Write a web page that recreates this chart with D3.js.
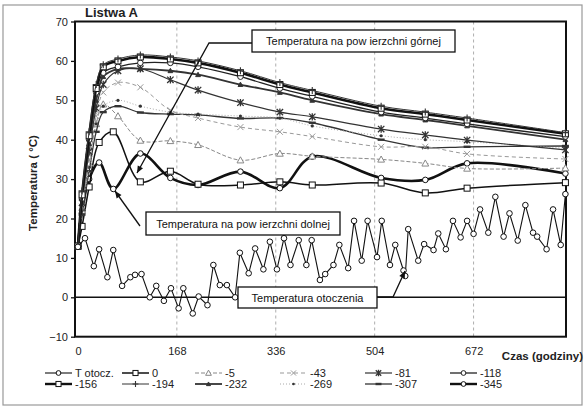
<!DOCTYPE html>
<html>
<head>
<meta charset="utf-8">
<script src="https://cdn.jsdelivr.net/npm/d3@7"></script>
<style>
  body { margin: 0; background: #fff; }
  text { font-family: "Liberation Sans", Arial, sans-serif; }
</style>
</head>
<body>
<div id="chart"></div>
<script>
// Measurement times (hours)
const hoursInner = [0, 7, 19, 31, 43, 68, 106, 157, 204, 276, 343, 398, 515, 590, 661, 828];
const hoursSurf = [0, 7, 19, 36, 60, 106, 157, 204, 276, 343, 398, 515, 590, 661, 828];
const hoursAmb = [0, 12, 27, 36, 50, 60, 75, 89, 97, 108, 122, 133, 146, 158, 171, 179, 195, 205, 220, 230,
  241, 253, 267, 275, 290, 301, 315, 326, 338, 350, 361, 375, 388, 397, 411, 420, 434, 444, 459, 469,
  482, 492, 508, 516, 530, 539, 553, 556, 561, 578, 588, 604, 612, 625, 637, 650, 661, 672, 683, 697,
  709, 723, 733, 747, 760, 773, 780, 796, 807, 820, 828];

// Temperatures (°C)
const tAmb = [12.8, 15, 7.9, 12.2, 5.1, 12, 2.9, 5.1, 5.7, 5.9, 0, 2.9, -0.9, 2.3, -2.8, 2.3, -4.1, 0.2, -2, 8.2,
  3.1, 3.1, 0, 11.3, 6.1, 12.4, 7.1, 14.1, 7.1, 15, 8.2, 14.5, 8.2, 14.5, 4.4, 5.9, 8.2, 13.3, 7.4, 19.4,
  9.3, 19.4, 10.2, 19.4, 8.2, 13.3, 6.8, 5.4, 17.3, 9.3, 13.5, 12, 16.2, 12.2, 19.4, 15.2, 19.4, 16.1, 22.3, 16.4,
  25.5, 15.4, 21.3, 14.4, 23.4, 16.4, 15.4, 12.2, 22.3, 13.3, 26.2];
const t0 = [13, 18, 28, 39.3, 42, 29.3, 32, 28.7, 28.5, 29.3, 28.5, 29, 26.5, 27.7, 29.1];
const t345 = [13, 22, 30, 34.2, 27.5, 36.5, 30.3, 28.5, 31.9, 27.7, 35.7, 30.3, 29.8, 34, 31.4];
const t5 = [13, 22, 34, 44, 49, 46, 39.8, 39.7, 38.7, 34.8, 36.5, 35.8, 35, 34, 32.7, 32.8];
const t43 = [13, 23, 35, 46, 52, 54.5, 53.3, 47.5, 45.5, 43.2, 42, 40.8, 38.2, 38.2, 36.4, 35.1];
const t81 = [13, 24, 37, 48, 54, 57.5, 58, 55.2, 52.6, 49.4, 47, 45.8, 42.7, 41.2, 39.9, 37.4];
const t118 = [13, 25, 40, 52, 57, 58.5, 59.5, 59.5, 58.5, 56, 53, 51, 47, 45.5, 44, 40.8];
const t156 = [13, 26, 41, 53, 58.5, 60, 61, 60.5, 59.5, 57, 54, 52, 48, 46.5, 45, 41.5];
const t194 = [13, 27, 42, 54, 59, 60.5, 61.5, 61, 60, 57.5, 54.5, 52.5, 48.5, 47, 45.5, 41.8];
const t232 = [13, 25, 39, 50, 56, 58, 58, 57.5, 56.5, 54, 52, 50, 46.5, 45, 43.5, 40.0];
const t269 = [13, 22, 33, 44, 48.5, 50, 48.5, 47, 46.5, 46, 45.5, 43.5, 41, 40, 39.5, 37.8];
const t307 = [13, 21, 32, 42, 47, 48.5, 46.9, 46.5, 46.3, 45.4, 45.5, 44.3, 40, 38, 38.2, 38.4];

const xTicks = [0, 168, 336, 504, 672];
const yTicks = [-10, 0, 10, 20, 30, 40, 50, 60, 70];

// Series table (legend order, column by column)
const series = [
  { name: "T otocz.", x: hoursAmb, y: tAmb, color: "#111", w: 1.1, dash: null, mark: "circle", curve: d3.curveLinear },
  { name: "-156", x: hoursInner, y: t156, color: "#111", w: 2.6, dash: null, mark: "square" },
  { name: "0", x: hoursSurf, y: t0, color: "#111", w: 1.5, dash: null, mark: "square" },
  { name: "-194", x: hoursInner, y: t194, color: "#333", w: 1, dash: null, mark: "plus" },
  { name: "-5", x: hoursInner, y: t5, color: "#888", w: 1, dash: "4,2", mark: "triangle" },
  { name: "-232", x: hoursInner, y: t232, color: "#333", w: 1.8, dash: null, mark: "triFilled" },
  { name: "-43", x: hoursInner, y: t43, color: "#999", w: 1, dash: "4,3", mark: "x" },
  { name: "-269", x: hoursInner, y: t269, color: "#aaa", w: 1, dash: "1,2", mark: "dot" },
  { name: "-81", x: hoursInner, y: t81, color: "#333", w: 1.2, dash: null, mark: "star" },
  { name: "-307", x: hoursInner, y: t307, color: "#333", w: 1.3, dash: null, mark: "dash" },
  { name: "-118", x: hoursInner, y: t118, color: "#222", w: 1.3, dash: null, mark: "circle" },
  { name: "-345", x: hoursSurf, y: t345, color: "#111", w: 2.6, dash: null, mark: "circle" }
];

const width = 585, height = 408;
const svg = d3.select("#chart").append("svg")
  .attr("width", width).attr("height", height);

// Outer frame
svg.append("rect").attr("x", 3).attr("y", 5).attr("width", 579).attr("height", 400)
  .attr("fill", "#fff").attr("stroke", "#999").attr("stroke-width", 1.2);

const x = d3.scaleLinear().domain([-5, 829]).range([75, 566]);
const y = d3.scaleLinear().domain([-10, 70]).range([336.7, 21.5]);

// Vertical dashed gridlines
svg.append("g").selectAll("line").data(xTicks.slice(1)).enter().append("line")
  .attr("x1", d => x(d)).attr("x2", d => x(d))
  .attr("y1", y(70)).attr("y2", y(-10))
  .attr("stroke", "#999").attr("stroke-width", 0.8).attr("stroke-dasharray", "3,3");

// Zero line
svg.append("line").attr("x1", x.range()[0]).attr("x2", x.range()[1])
  .attr("y1", y(0)).attr("y2", y(0)).attr("stroke", "#111").attr("stroke-width", 1.5);

// Plot border
svg.append("rect").attr("x", 75).attr("y", y(70)).attr("width", 566 - 75).attr("height", y(-10) - y(70))
  .attr("fill", "none").attr("stroke", "#111").attr("stroke-width", 2);

// Axes
const yAxis = svg.append("g").attr("transform", "translate(75,0)")
  .call(d3.axisLeft(y).tickValues(yTicks).tickSize(4).tickPadding(3));
const xAxis = svg.append("g").attr("transform", `translate(0,${y(-10)})`)
  .call(d3.axisBottom(x).tickValues(xTicks).tickSize(0).tickPadding(11));
[yAxis, xAxis].forEach(a => {
  a.select(".domain").remove();
  a.selectAll("text").attr("font-size", 11).attr("fill", "#222")
    .attr("font-family", "'Liberation Sans', Arial, sans-serif");
  a.selectAll("line").attr("stroke", "#111").attr("stroke-width", 1.3);
});

// Marker drawing
function marker(g, type, color, px, py, s) {
  s = s || 1;
  if (type === "circle") {
    g.append("circle").attr("cx", px).attr("cy", py).attr("r", 2.8 * s)
      .attr("fill", "#fff").attr("stroke", color).attr("stroke-width", 1);
  } else if (type === "square") {
    g.append("rect").attr("x", px - 3 * s).attr("y", py - 3 * s).attr("width", 6 * s).attr("height", 6 * s)
      .attr("fill", "#fff").attr("stroke", color).attr("stroke-width", 1);
  } else if (type === "triangle" || type === "triFilled") {
    const r = type === "triangle" ? 3.4 * s : 2.4 * s;
    g.append("path").attr("d", `M${px},${py - r}L${px + r},${py + r * 0.8}L${px - r},${py + r * 0.8}Z`)
      .attr("fill", type === "triangle" ? "#fff" : color).attr("stroke", color).attr("stroke-width", 1);
  } else if (type === "x") {
    const r = 3 * s;
    g.append("path").attr("d", `M${px - r},${py - r}L${px + r},${py + r}M${px - r},${py + r}L${px + r},${py - r}`)
      .attr("stroke", color).attr("stroke-width", 1);
  } else if (type === "star") {
    const r = 3.2 * s;
    g.append("path").attr("d", `M${px - r},${py - r}L${px + r},${py + r}M${px - r},${py + r}L${px + r},${py - r}M${px},${py - r - 0.5}V${py + r + 0.5}`)
      .attr("stroke", color).attr("stroke-width", 1.3);
  } else if (type === "plus") {
    const r = 3.5 * s;
    g.append("path").attr("d", `M${px - r},${py}H${px + r}M${px},${py - r}V${py + r}`)
      .attr("stroke", color).attr("stroke-width", 1.1);
  } else if (type === "dash") {
    g.append("path").attr("d", `M${px - 3.5 * s},${py}H${px + 3.5 * s}`)
      .attr("stroke", color).attr("stroke-width", 2.4);
  } else if (type === "dot") {
    g.append("circle").attr("cx", px).attr("cy", py).attr("r", 1.6 * s).attr("fill", "#333");
  }
}

// Series lines and markers
const drawOrder = [11, 2, 4, 9, 7, 6, 5, 8, 10, 1, 3, 0];
drawOrder.forEach(i => {
  const s = series[i];
  const pts = s.x.map((h, k) => [h, s.y[k]]);
  const line = d3.line().x(d => x(d[0])).y(d => y(d[1]))
    .curve(s.curve || d3.curveCatmullRom.alpha(0.5));
  const g = svg.append("g");
  g.append("path").datum(pts).attr("d", line)
    .attr("fill", "none").attr("stroke", s.color).attr("stroke-width", s.w)
    .attr("stroke-dasharray", s.dash);
  pts.forEach(d => marker(g, s.mark, s.color === "#aaa" ? "#555" : s.color, x(d[0]), y(d[1]), 1));
});

// Annotations with pointers
function callout(box, label, pointer) {
  svg.append("path").attr("d", d3.line()(pointer))
    .attr("fill", "none").attr("stroke", "#111").attr("stroke-width", 1.3);
  const n = pointer.length, p = pointer[n - 1], q = pointer[n - 2];
  const a = Math.atan2(p[1] - q[1], p[0] - q[0]);
  const L = 7, W = 3;
  const bx = p[0] - L * Math.cos(a), by = p[1] - L * Math.sin(a);
  svg.append("path")
    .attr("d", `M${p[0]},${p[1]}L${bx + W * Math.sin(a)},${by - W * Math.cos(a)}L${bx - W * Math.sin(a)},${by + W * Math.cos(a)}Z`)
    .attr("fill", "#111");
  svg.append("rect").attr("x", box[0]).attr("y", box[1]).attr("width", box[2]).attr("height", box[3])
    .attr("fill", "#fff").attr("stroke", "#111").attr("stroke-width", 1.3);
  svg.append("text").attr("x", box[0] + box[2] / 2).attr("y", box[1] + box[3] / 2 + 4)
    .attr("text-anchor", "middle").attr("font-size", 11).attr("fill", "#111").text(label);
}
callout([252, 30, 203, 22], "Temperatura na pow ierzchni górnej", [[252, 43], [209, 43], [137, 173]]);
callout([146, 212, 194, 23], "Temperatura na pow ierzchni dolnej", [[140, 226], [115, 191]]);
callout([238, 287, 139, 21], "Temperatura otoczenia", [[377, 297], [393, 297], [405, 271]]);

// Titles
svg.append("text").attr("x", 85).attr("y", 17).attr("font-size", 13).attr("font-weight", "bold")
  .attr("fill", "#222").text("Listwa A");
svg.append("text").attr("transform", "translate(37,183) rotate(-90)").attr("text-anchor", "middle")
  .attr("font-size", 11.5).attr("font-weight", "bold").attr("fill", "#222").text("Temperatura ( °C)");
svg.append("text").attr("x", 583).attr("y", 360).attr("text-anchor", "end")
  .attr("font-size", 11.5).attr("font-weight", "bold").attr("fill", "#222").text("Czas (godziny)");

// Legend
const legX = [45, 122, 195, 280, 365, 450];
const legY = [373, 384];
series.forEach((s, i) => {
  const cx = legX[Math.floor(i / 2)], cy = legY[i % 2];
  const g = svg.append("g");
  g.append("line").attr("x1", cx).attr("x2", cx + 27).attr("y1", cy).attr("y2", cy)
    .attr("stroke", s.color).attr("stroke-width", Math.min(s.w, 2.4)).attr("stroke-dasharray", s.dash);
  marker(g, s.mark, s.color === "#aaa" ? "#555" : s.color, cx + 13.5, cy, 0.85);
  g.append("text").attr("x", cx + 30).attr("y", cy + 4).attr("font-size", 11).attr("fill", "#222").text(s.name);
});
</script>
</body>
</html>
